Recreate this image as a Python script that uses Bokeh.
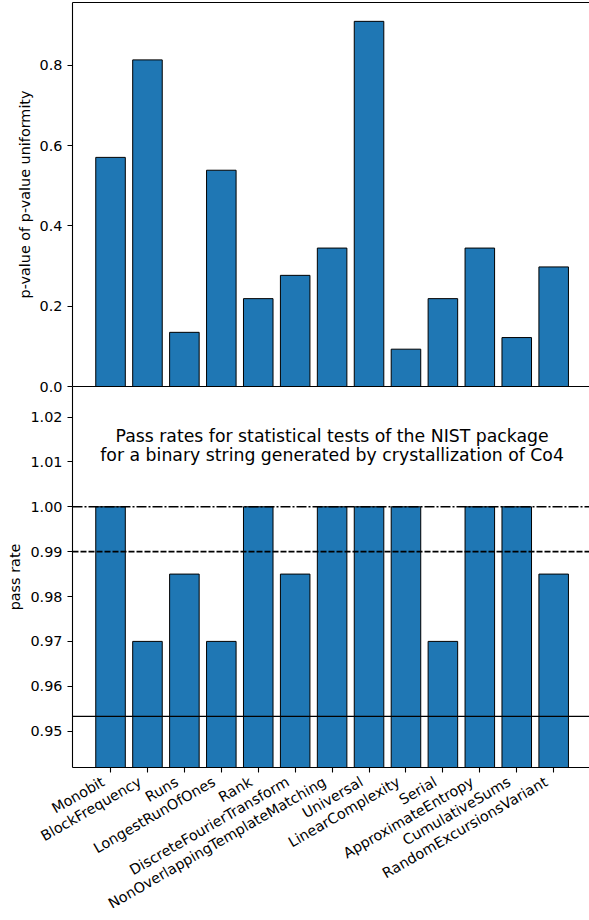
import math
from bokeh.plotting import figure
from bokeh.models import (Range1d, FixedTicker, LinearAxis, Span, Label,
                          PrintfTickFormatter, ColumnDataSource)
from bokeh.layouts import column
from bokeh.embed import file_html
from bokeh.resources import INLINE

# ---- data -------------------------------------------------------------
tests = ["Monobit", "BlockFrequency", "Runs", "LongestRunOfOnes", "Rank",
         "DiscreteFourierTransform", "NonOverlappingTemplateMatching",
         "Universal", "LinearComplexity", "Serial", "ApproximateEntropy",
         "CumulativeSums", "RandomExcursionsVariant"]
p_uniformity = [0.571, 0.814, 0.135, 0.539, 0.219, 0.277, 0.345,
                0.910, 0.093, 0.219, 0.345, 0.122, 0.298]
pass_rates = [1.0, 0.97, 0.985, 0.97, 1.0, 0.985, 1.0,
              1.0, 1.0, 0.97, 1.0, 1.0, 0.985]
ideal_rate = 1.0
expected_rate = 0.99
min_rate = 0.9533
top_ticks = [0.0, 0.2, 0.4, 0.6, 0.8]
bottom_ticks = [0.95, 0.96, 0.97, 0.98, 0.99, 1.00, 1.01, 1.02]
title_lines = ["Pass rates for statistical tests of the NIST package",
               "for a binary string generated by crystallization of Co4"]

# ---- styling ------------------------------------------------------------
FONT = "DejaVu Sans"
FS = "14.4px"
TFS = "17.3px"
BAR = "#1f77b4"
OVER = 10
LEFT = 72
FW = 589 - LEFT
X0, X1 = -1.03, 12.97
LABEL_SHIFT = 0.2   # category units: moves rotated labels left (matplotlib ha='right')
xs = list(range(len(tests)))
src = ColumnDataSource(dict(x=xs, p=p_uniformity, r=pass_rates))
x_range = Range1d(X0, X1)


def style_axis(ax):
    ax.axis_line_color = "black"
    ax.axis_line_width = 1.1
    ax.major_tick_line_color = "black"
    ax.major_tick_line_width = 1.1
    ax.major_tick_out = 5
    ax.major_tick_in = 0
    ax.minor_tick_line_color = None
    ax.major_label_text_font = FONT
    ax.major_label_text_font_size = FS
    ax.major_label_text_color = "black"
    ax.major_label_standoff = 5
    ax.axis_label_text_font = FONT
    ax.axis_label_text_font_size = FS
    ax.axis_label_text_font_style = "normal"
    ax.axis_label_text_color = "black"
    ax.axis_label_standoff = 4


def spine(side, p):
    ax = LinearAxis(ticker=FixedTicker(ticks=[]))
    ax.axis_line_color = "black"
    ax.axis_line_width = 1.1
    ax.major_tick_out = 0
    ax.major_tick_in = 0
    ax.minor_tick_line_color = None
    ax.major_label_standoff = 0
    ax.major_label_text_font_size = "0px"
    p.add_layout(ax, side)


# ---- top panel ----------------------------------------------------------
top = figure(frame_width=FW, frame_height=384, x_range=x_range,
             y_range=Range1d(0, 0.957), output_backend="svg",
             toolbar_location=None, x_axis_location=None,
             min_border_left=LEFT, min_border_right=0, min_border_top=2,
             min_border_bottom=OVER)
top.outline_line_color = None
top.grid.visible = False
top.vbar(x="x", top="p", bottom=0, width=0.8, source=src,
         fill_color=BAR, line_color="black", line_width=1)
ya = top.left[0]
ya.ticker = FixedTicker(ticks=top_ticks)
ya.axis_label = "p-value of p-value uniformity"
style_axis(ya)
ya.formatter = PrintfTickFormatter(format="%.1f")
spine("above", top)

# ---- bottom panel -------------------------------------------------------
bot = figure(frame_width=FW, frame_height=381, x_range=x_range,
             y_range=Range1d(0.9419, 1.0268), output_backend="svg",
             toolbar_location=None,
             min_border_left=LEFT, min_border_right=0, min_border_top=0,
             min_border_bottom=0)
bot.extra_x_ranges = {"lab": Range1d(X0 + LABEL_SHIFT, X1 + LABEL_SHIFT)}
bot.outline_line_color = None
bot.border_fill_color = None
bot.background_fill_color = "white"
bot.grid.visible = False
bot.margin = (-OVER, 0, 0, 0)
bot.vbar(x="x", top="r", bottom=0, width=0.8, source=src,
         fill_color=BAR, line_color="black", line_width=1)
yb = bot.left[0]
yb.ticker = FixedTicker(ticks=bottom_ticks)
yb.axis_label = "pass rate"
style_axis(yb)
yb.formatter = PrintfTickFormatter(format="%.2f")

# tick marks (true positions, no labels)
xa = bot.below[0]
style_axis(xa)
xa.ticker = FixedTicker(ticks=xs)
xa.major_label_overrides = {i: "" for i in xs}
xa.major_label_text_font_size = "0px"
xa.major_label_standoff = 0

# rotated category labels
xl = LinearAxis(x_range_name="lab", ticker=FixedTicker(ticks=xs))
style_axis(xl)
xl.axis_line_color = None
xl.major_tick_out = 0
xl.major_label_overrides = {i: t for i, t in enumerate(tests)}
xl.major_label_orientation = math.pi / 6
xl.major_label_standoff = 8
xl.major_label_text_line_height = 1.0
bot.add_layout(xl, "below")
spine("above", bot)

bot.add_layout(Span(location=ideal_rate, dimension="width",
                    line_color="black", line_width=1.6,
                    line_dash="10 2 2 2"))
bot.add_layout(Span(location=expected_rate, dimension="width",
                    line_color="black", line_width=1.6, line_dash="6 2"))
bot.add_layout(Span(location=min_rate, dimension="width",
                    line_color="black", line_width=1.2))

for ty, txt in zip([1.0158, 1.0115], title_lines):
    bot.add_layout(Label(x=6, y=ty, text=txt,
                         text_align="center", text_baseline="middle",
                         text_font=FONT, text_font_size=TFS,
                         text_color="black"))

layout = column(top, bot, spacing=0)
open("out.html", "w").write(file_html(layout, INLINE))
